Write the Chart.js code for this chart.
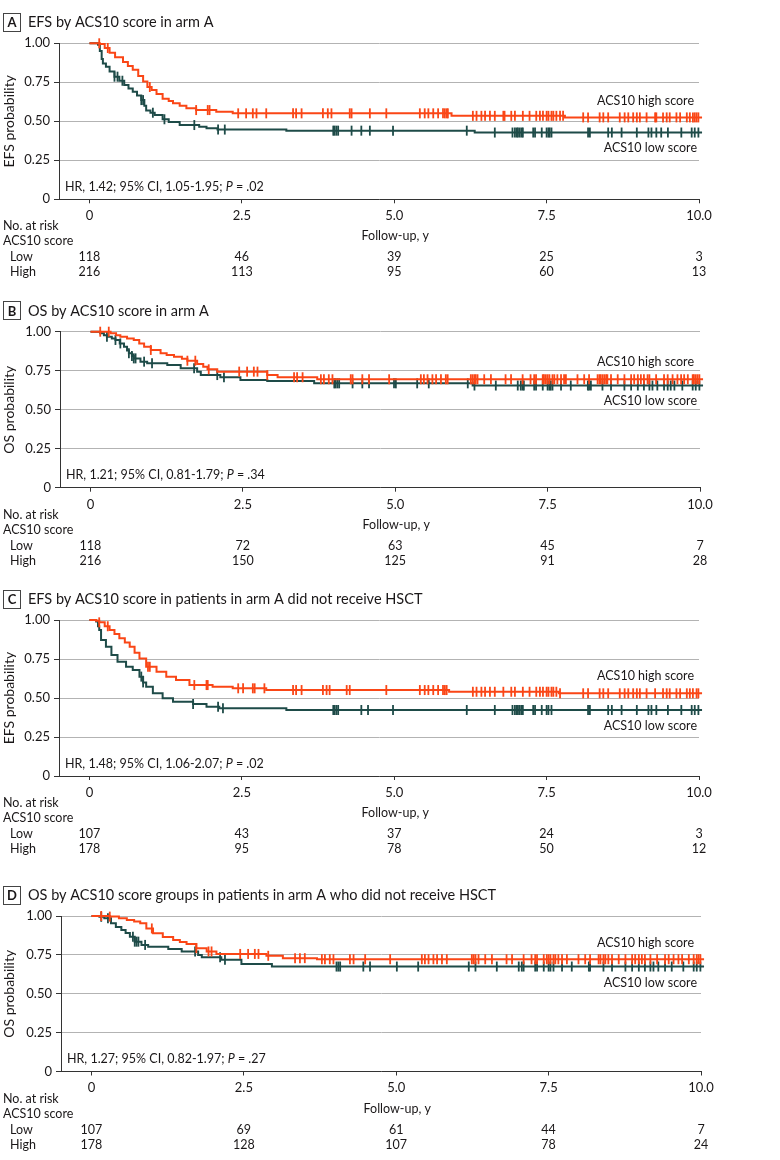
<!DOCTYPE html>
<html>
<head>
<meta charset="utf-8">
<script src="https://cdn.jsdelivr.net/npm/chart.js@4.4.1/dist/chart.umd.min.js"></script>
<style>
  body { margin: 0; background: #fff; width: 780px; height: 1160px; position: relative; overflow: hidden; }
  canvas { position: absolute; left: 0; }
</style>
</head>
<body>
<canvas id="chartA" width="780" height="288" style="top:0px"></canvas>
<canvas id="chartB" width="780" height="290" style="top:288px"></canvas>
<canvas id="chartC" width="780" height="290" style="top:578px"></canvas>
<canvas id="chartD" width="780" height="292" style="top:868px"></canvas>
<script>
// =========================
// DATA
// =========================
const xTicks = [0, 2.5, 5, 7.5, 10];
const yTicks = [0, 0.25, 0.5, 0.75, 1];
const riskTimes = [0, 2.5, 5, 7.5, 10];
const lastFollowUp = 10.05;

// panel A - EFS, arm A
const aHigh = [[0,1],[0.17,0.995],[0.25,0.97],[0.33,0.94],[0.42,0.91],[0.55,0.88],[0.63,0.855],[0.71,0.83],[0.8,0.79],[0.88,0.755],[0.95,0.72],[1.02,0.7],[1.1,0.675],[1.2,0.645],[1.3,0.63],[1.37,0.615],[1.48,0.6],[1.59,0.583],[1.75,0.572],[2.08,0.562],[2.35,0.551],[5.94,0.535],[7.8,0.525]];
const aLow = [[0,1],[0.14,0.99],[0.17,0.95],[0.2,0.9],[0.22,0.87],[0.27,0.85],[0.33,0.82],[0.41,0.786],[0.49,0.76],[0.57,0.733],[0.64,0.71],[0.71,0.69],[0.78,0.665],[0.85,0.636],[0.9,0.6],[0.93,0.57],[1.0,0.555],[1.07,0.54],[1.2,0.513],[1.3,0.495],[1.48,0.476],[1.8,0.465],[1.92,0.455],[2.1,0.447],[3.23,0.44],[6.32,0.428]];
const aHighCensor = [0.16,0.30,0.99,1.75,1.94,1.97,2.44,2.57,2.68,2.74,2.90,3.34,3.39,3.48,3.83,3.91,3.97,4.27,4.30,4.60,4.87,5.42,5.50,5.56,5.64,5.72,5.80,5.83,5.86,5.88,6.29,6.35,6.43,6.49,6.57,6.65,6.79,6.81,6.92,6.98,7.11,7.22,7.33,7.39,7.44,7.50,7.53,7.58,7.61,7.66,7.72,7.77,8.10,8.18,8.37,8.43,8.51,8.70,8.78,8.84,8.92,8.98,9.03,9.14,9.28,9.30,9.41,9.47,9.52,9.63,9.69,9.80,9.85,9.90,9.93,9.96,9.99];
const aLowCensor = [0.41,0.46,0.54,0.85,0.88,1.04,1.23,1.72,2.11,2.22,4.0,4.02,4.05,4.08,4.30,4.46,4.60,4.98,6.19,6.65,6.94,6.98,7.01,7.03,7.06,7.09,7.11,7.28,7.31,7.42,7.50,7.53,7.55,7.58,8.18,8.21,8.51,8.57,8.73,8.98,9.17,9.22,9.30,9.38,9.49,9.71,9.88,9.93,9.99];
const aRiskLow = [118, 46, 39, 25, 3];
const aRiskHigh = [216, 113, 95, 60, 13];

// panel B - OS, arm A
const bHigh = [[0,1],[0.33,0.99],[0.42,0.978],[0.49,0.968],[0.6,0.957],[0.71,0.947],[0.8,0.925],[0.88,0.904],[0.99,0.883],[1.15,0.862],[1.25,0.85],[1.37,0.84],[1.5,0.826],[1.59,0.814],[1.75,0.793],[1.85,0.775],[1.92,0.759],[2.08,0.744],[2.9,0.722],[3.07,0.708],[3.72,0.695]];
const bLow = [[0,1],[0.16,0.99],[0.22,0.978],[0.27,0.968],[0.35,0.957],[0.41,0.947],[0.48,0.925],[0.55,0.904],[0.6,0.88],[0.63,0.862],[0.68,0.845],[0.71,0.829],[0.82,0.808],[0.93,0.797],[1.26,0.787],[1.48,0.765],[1.75,0.744],[1.81,0.722],[2.13,0.708],[2.46,0.69],[2.9,0.684],[3.67,0.669],[6.27,0.655]];
const bHighCensor = [0.16,0.30,0.99,1.59,1.72,1.94,2.44,2.57,2.68,2.74,2.90,3.34,3.39,3.48,3.78,3.83,3.91,3.97,4.27,4.30,4.46,4.57,4.90,5.42,5.47,5.53,5.61,5.67,5.75,5.83,5.86,6.24,6.27,6.30,6.32,6.35,6.46,6.57,6.81,6.90,7.09,7.22,7.28,7.31,7.42,7.44,7.47,7.50,7.53,7.58,7.61,7.66,7.72,7.77,7.80,7.99,8.10,8.18,8.32,8.35,8.37,8.40,8.43,8.46,8.48,8.54,8.65,8.76,8.87,8.92,8.98,9.03,9.08,9.14,9.17,9.28,9.41,9.47,9.55,9.63,9.69,9.74,9.80,9.88,9.90,9.93,9.96,9.99];
const bLowCensor = [0.27,0.41,0.49,0.63,0.68,0.71,0.74,0.88,1.01,1.70,2.08,2.19,4.0,4.02,4.05,4.08,4.30,4.46,4.57,4.98,5.01,5.36,5.55,6.19,6.30,6.65,7.01,7.06,7.09,7.11,7.28,7.31,7.42,7.50,7.53,7.55,7.58,7.72,7.88,8.16,8.18,8.21,8.40,8.54,8.76,8.87,8.98,9.08,9.17,9.22,9.30,9.41,9.47,9.52,9.58,9.71,9.88,9.93,9.99];
const bRiskLow = [118, 72, 63, 45, 7];
const bRiskHigh = [216, 150, 125, 91, 28];

// panel C - EFS, arm A without HSCT
const cHigh = [[0,1],[0.11,0.995],[0.16,0.985],[0.25,0.96],[0.33,0.936],[0.41,0.91],[0.49,0.883],[0.58,0.855],[0.66,0.829],[0.74,0.79],[0.82,0.754],[0.93,0.7],[1.1,0.669],[1.26,0.637],[1.42,0.615],[1.64,0.583],[2.02,0.572],[2.35,0.562],[2.9,0.551],[5.9,0.54],[7.7,0.53]];
const cLow = [[0,1],[0.11,0.99],[0.14,0.96],[0.16,0.936],[0.19,0.872],[0.27,0.829],[0.36,0.776],[0.46,0.733],[0.6,0.7],[0.71,0.679],[0.82,0.637],[0.88,0.6],[0.93,0.572],[1.04,0.53],[1.2,0.498],[1.37,0.476],[1.7,0.462],[1.92,0.444],[2.13,0.434],[3.23,0.423]];
const cHighCensor = [0.16,0.30,0.96,0.99,1.72,1.92,1.94,2.44,2.52,2.68,2.71,2.87,3.34,3.39,3.48,3.83,3.89,3.94,4.22,4.27,4.87,5.42,5.50,5.56,5.64,5.72,5.80,5.83,5.86,6.29,6.35,6.43,6.49,6.57,6.65,6.79,6.92,6.98,7.11,7.22,7.33,7.39,7.44,7.50,7.53,7.58,7.61,7.66,7.72,8.10,8.18,8.37,8.43,8.51,8.70,8.78,8.84,8.92,8.98,9.03,9.14,9.28,9.41,9.47,9.52,9.63,9.69,9.80,9.85,9.90,9.96,9.99];
const cLowCensor = [0.85,0.88,1.70,2.11,2.19,4.0,4.02,4.05,4.08,4.46,4.57,4.98,6.19,6.65,6.94,6.98,7.01,7.03,7.06,7.09,7.11,7.28,7.31,7.42,7.50,7.53,7.58,8.18,8.21,8.51,8.57,8.73,8.98,9.17,9.22,9.30,9.49,9.71,9.88,9.93,9.99];
const cRiskLow = [107, 43, 37, 24, 3];
const cRiskHigh = [178, 95, 78, 50, 12];

// panel D - OS, arm A without HSCT
const dHigh = [[0,1],[0.3,0.996],[0.45,0.985],[0.58,0.974],[0.7,0.964],[0.8,0.953],[0.9,0.92],[1.01,0.889],[1.17,0.865],[1.34,0.846],[1.45,0.833],[1.56,0.82],[1.72,0.793],[1.89,0.772],[2.05,0.756],[2.87,0.744],[3.14,0.729],[3.7,0.722]];
const dLow = [[0,1],[0.13,0.995],[0.21,0.985],[0.32,0.953],[0.4,0.93],[0.49,0.91],[0.56,0.89],[0.63,0.867],[0.71,0.835],[0.82,0.814],[0.93,0.803],[1.26,0.787],[1.48,0.772],[1.75,0.75],[1.81,0.735],[2.13,0.718],[2.46,0.692],[2.96,0.675]];
const dHighCensor = [0.16,0.30,0.99,1.72,1.92,1.97,2.44,2.57,2.68,2.74,2.90,3.34,3.42,3.50,3.78,3.83,3.91,3.97,4.24,4.30,4.49,4.90,5.42,5.47,5.53,5.61,5.67,5.75,5.83,6.24,6.27,6.30,6.35,6.46,6.57,6.81,6.90,7.09,7.22,7.28,7.31,7.42,7.47,7.50,7.53,7.58,7.61,7.66,7.72,7.80,7.99,8.10,8.18,8.32,8.35,8.40,8.43,8.48,8.54,8.65,8.76,8.87,8.92,8.98,9.03,9.08,9.17,9.28,9.41,9.47,9.55,9.63,9.69,9.80,9.88,9.93,9.96,9.99];
const dLowCensor = [0.16,0.27,0.68,0.71,0.74,0.77,0.88,1.70,2.11,2.19,4.02,4.05,4.08,4.46,4.57,5.01,5.36,6.19,6.30,6.65,7.01,7.06,7.09,7.28,7.31,7.42,7.50,7.53,7.58,7.72,7.88,8.16,8.18,8.40,8.54,8.76,8.87,8.98,9.08,9.17,9.22,9.30,9.41,9.52,9.71,9.88,9.93,9.99];
const dRiskLow = [107, 69, 61, 44, 7];
const dRiskHigh = [178, 128, 107, 78, 24];

// =========================
// STYLE
// =========================
const HIGH_COLOR = "#FA4616";
const LOW_COLOR = "#1E4B48";
const TEXT_COLOR = "#1A1718";
const FONT = "Lato, 'Open Sans', sans-serif";

const panels = [
    { id: "chartA", letter: "A", title: "EFS by ACS10 score in arm A", yTitle: "EFS probability",
      hr: "HR, 1.42; 95% CI, 1.05-1.95; ", p: ".02",
      high: aHigh, low: aLow, highCensor: aHighCensor, lowCensor: aLowCensor, riskLow: aRiskLow, riskHigh: aRiskHigh,
      top: 0, height: 288, plotTop: 43.3, plotBottom: 199.3, shift: 0, highDy: 57.7, lowDy: 105 },
    { id: "chartB", letter: "B", title: "OS by ACS10 score in arm A", yTitle: "OS probability",
      hr: "HR, 1.21; 95% CI, 0.81-1.79; ", p: ".34",
      high: bHigh, low: bLow, highCensor: bHighCensor, lowCensor: bLowCensor, riskLow: bRiskLow, riskHigh: bRiskHigh,
      top: 288, height: 290, plotTop: 331.7, plotBottom: 487.7, shift: 1, highDy: 30, lowDy: 69 },
    { id: "chartC", letter: "C", title: "EFS by ACS10 score in patients in arm A did not receive HSCT", yTitle: "EFS probability",
      hr: "HR, 1.48; 95% CI, 1.06-2.07; ", p: ".02",
      high: cHigh, low: cLow, highCensor: cHighCensor, lowCensor: cLowCensor, riskLow: cRiskLow, riskHigh: cRiskHigh,
      top: 578, height: 290, plotTop: 620, plotBottom: 776, shift: 0, highDy: 56, lowDy: 106 },
    { id: "chartD", letter: "D", title: "OS by ACS10 score groups in patients in arm A who did not receive HSCT", yTitle: "OS probability",
      hr: "HR, 1.27; 95% CI, 0.82-1.97; ", p: ".27",
      high: dHigh, low: dLow, highCensor: dHighCensor, lowCensor: dLowCensor, riskLow: dRiskLow, riskHigh: dRiskHigh,
      top: 868, height: 292, plotTop: 916, plotBottom: 1071.5, shift: 2, highDy: 27, lowDy: 67 }
];

// survival value of a step curve at time t
function survAt(steps, t) {
    let s = steps[0][1];
    for (const [tt, ss] of steps) {
        if (tt <= t) s = ss; else break;
    }
    return s;
}

function curvePoints(steps) {
    const pts = steps.map(([t, s]) => ({ x: t, y: s }));
    pts.push({ x: lastFollowUp, y: steps[steps.length - 1][1] });
    return pts;
}

function censorPoints(steps, times) {
    return times.map(t => ({ x: t, y: survAt(steps, t) }));
}

// =========================
// EXTRA TEXT (title, HR, labels, risk table)
// =========================
const kmExtras = {
    id: "kmExtras",
    afterDraw(chart, args, opts) {
        const p = opts.panel;
        const ctx = chart.ctx;
        const xs = chart.scales.x;
        const area = chart.chartArea;
        ctx.save();
        ctx.fillStyle = TEXT_COLOR;
        ctx.textBaseline = "middle";

        // panel letter box + title
        const ty = area.top - 20.7;
        ctx.strokeStyle = "#444";
        ctx.lineWidth = 1;
        ctx.strokeRect(3.5, Math.round(ty - 9.5) + 0.5, 17, 18);
        ctx.font = "bold 13px " + FONT;
        ctx.textAlign = "center";
        ctx.fillText(p.letter, 12, ty + 0.5);
        ctx.font = "14.5px " + FONT;
        ctx.textAlign = "left";
        ctx.fillText(p.title, 28, ty);

        // HR text
        ctx.font = "12.5px " + FONT;
        const hy = area.bottom - 12.5;
        let hx = 65 + p.shift;
        ctx.fillText(p.hr, hx, hy);
        hx += ctx.measureText(p.hr).width;
        ctx.font = "italic 12.5px " + FONT;
        ctx.fillText("P", hx, hy);
        hx += ctx.measureText("P").width;
        ctx.font = "12.5px " + FONT;
        ctx.fillText(" = " + p.p, hx, hy);

        // curve labels
        ctx.textAlign = "right";
        ctx.fillText("ACS10 high score", 694, area.top + p.highDy);
        ctx.fillText("ACS10 low score", 697, area.top + p.lowDy);

        // risk table
        const b = area.bottom;
        ctx.textAlign = "left";
        ctx.fillText("No. at risk", 3, b + 27);
        ctx.fillText("ACS10 score", 3, b + 42);
        ctx.fillText("Low", 10, b + 58);
        ctx.fillText("High", 10, b + 73);
        ctx.textAlign = "center";
        ctx.fillText("Follow-up, y", xs.getPixelForValue(5) + 1, b + 37);
        riskTimes.forEach((t, i) => {
            const px = xs.getPixelForValue(t);
            ctx.fillText(String(p.riskLow[i]), px, b + 58);
            ctx.fillText(String(p.riskHigh[i]), px, b + 73);
        });
        ctx.restore();
    }
};

// =========================
// BUILD CHARTS
// =========================
panels.forEach(p => {
    const yWidth = 59 + p.shift;
    const xHeight = 30;
    new Chart(document.getElementById(p.id), {
        type: "line",
        data: {
            datasets: [
                {
                    data: curvePoints(p.low),
                    borderColor: LOW_COLOR,
                    borderWidth: 2,
                    stepped: "before",
                    pointRadius: 0,
                    fill: false,
                    clip: false,
                    order: 3
                },
                {
                    data: curvePoints(p.high),
                    borderColor: HIGH_COLOR,
                    borderWidth: 2,
                    stepped: "before",
                    pointRadius: 0,
                    fill: false,
                    clip: false,
                    order: 1
                },
                {
                    data: censorPoints(p.low, p.lowCensor),
                    showLine: false,
                    pointStyle: "line",
                    rotation: 90,
                    pointRadius: 5,
                    borderColor: LOW_COLOR,
                    pointBorderWidth: 1.8,
                    clip: false,
                    order: 2
                },
                {
                    data: censorPoints(p.high, p.highCensor),
                    showLine: false,
                    pointStyle: "line",
                    rotation: 90,
                    pointRadius: 5,
                    borderColor: HIGH_COLOR,
                    pointBorderWidth: 1.8,
                    clip: false,
                    order: 0
                }
            ]
        },
        options: {
            responsive: false,
            animation: false,
            layout: {
                padding: {
                    top: p.plotTop - p.top,
                    left: 0,
                    right: 780 - 699 - p.shift,
                    bottom: p.height - (p.plotBottom - p.top) - xHeight
                }
            },
            plugins: {
                legend: { display: false },
                tooltip: { enabled: false },
                kmExtras: { panel: p }
            },
            scales: {
                x: {
                    type: "linear",
                    min: -0.5,
                    max: 10,
                    afterBuildTicks: scale => { scale.ticks = xTicks.map(v => ({ value: v })); },
                    afterFit: scale => { scale.height = xHeight; },
                    grid: { drawOnChartArea: false, tickLength: 4, tickColor: "#333" },
                    border: { color: "#333", width: 1 },
                    ticks: {
                        autoSkip: false,
                        maxRotation: 0,
                        padding: 5,
                        color: TEXT_COLOR,
                        font: { family: FONT, size: 13 },
                        callback: v => (v === 0 ? "0" : v.toFixed(1))
                    }
                },
                y: {
                    min: 0,
                    max: 1,
                    afterBuildTicks: scale => { scale.ticks = yTicks.map(v => ({ value: v })); },
                    afterFit: scale => { scale.width = yWidth; },
                    grid: { color: "#B3B3B3", lineWidth: 1, tickLength: 5, tickColor: "#333" },
                    border: { color: "#333", width: 1 },
                    ticks: {
                        padding: 4,
                        color: TEXT_COLOR,
                        font: { family: FONT, size: 13 },
                        callback: v => (v === 0 ? "0" : v.toFixed(2))
                    },
                    title: {
                        display: true,
                        text: p.yTitle,
                        color: TEXT_COLOR,
                        font: { family: FONT, size: 14 },
                        padding: { top: 1, bottom: 0 }
                    }
                }
            }
        },
        plugins: [kmExtras]
    });
});
</script>
</body>
</html>
